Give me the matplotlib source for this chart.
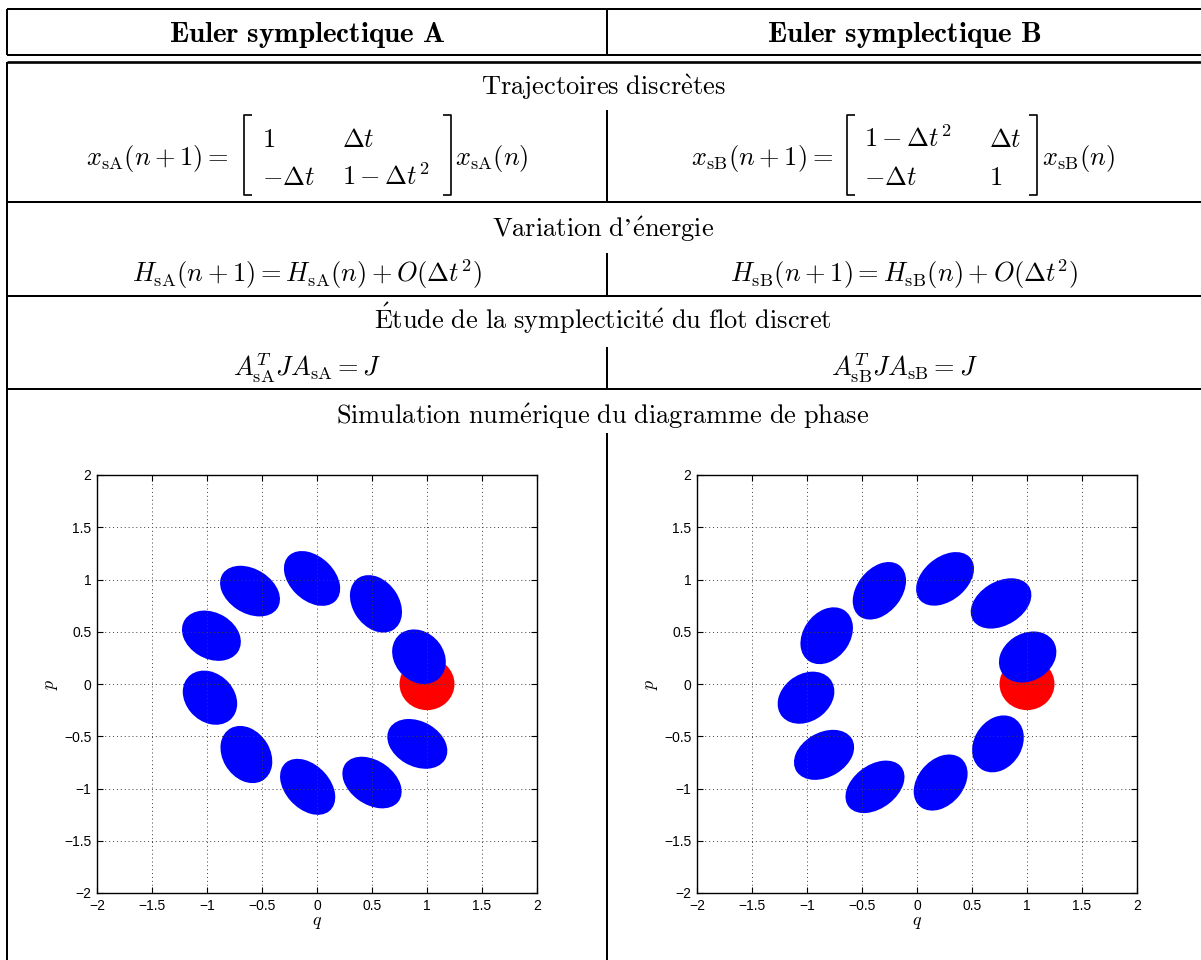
import numpy as np
import matplotlib
matplotlib.use('Agg')
import matplotlib.pyplot as plt
from matplotlib.patches import Ellipse, Circle
from matplotlib.lines import Line2D

plt.rcParams['mathtext.fontset'] = 'cm'
plt.rcParams['font.family'] = ['Liberation Sans', 'DejaVu Sans']

# --- phase portrait data (q, p centres, full axes, tilt in deg)
start_q, start_p, start_d = 1.0, 0.0, 0.5

qA = [0.927, 0.912, 0.50, -0.085, -0.642, -0.973, -0.96, -0.609, -0.045, 0.536]
pA = [0.261, -0.573, -0.943, -0.984, -0.675, -0.131, 0.462, 0.889, 1.01, 0.767]
wA = [0.554, 0.586, 0.603, 0.609, 0.578, 0.561, 0.572, 0.597, 0.606, 0.589]
hA = [0.452, 0.426, 0.414, 0.410, 0.433, 0.446, 0.437, 0.419, 0.412, 0.424]
angA = [-55, -32, -38, -50, -61, -51, -33, -35, -47, -59]

qB = [1.006, 0.736, 0.215, -0.382, -0.845, -1.009, -0.821, -0.342, 0.255, 0.764]
pB = [0.258, -0.573, -0.943, -0.984, -0.678, -0.131, 0.462, 0.892, 1.006, 0.771]
wB = [0.557, 0.572, 0.593, 0.611, 0.592, 0.565, 0.583, 0.608, 0.611, 0.604]
hB = [0.449, 0.437, 0.421, 0.409, 0.422, 0.442, 0.429, 0.411, 0.409, 0.414]
angB = [36, 62, 53, 40, 33, 41, 58, 55, 43, 34]

ticks = [-2, -1.5, -1, -0.5, 0, 0.5, 1, 1.5, 2]
tick_labels = ['\u22122', '\u22121.5', '\u22121', '\u22120.5', '0', '0.5', '1', '1.5', '2']

W, H = 1201, 960
def fx(px):
    return px / W
def fy(py):
    return 1 - py / H

fig = plt.figure(figsize=(W / 100, H / 100), dpi=100)

def seg(xs, ys, lw=1.44):
    fig.add_artist(Line2D([fx(v) for v in xs], [fy(v) for v in ys],
                          transform=fig.transFigure, color='k', lw=lw,
                          solid_capstyle='butt'))

# table rules
x0, xm, x1 = 7, 607, 1201
for y in [9, 55, 202, 296, 389]:
    seg([x0, x1], [y, y])
seg([x0, x1], [62.3, 62.3], lw=1.9)
seg([x0, x0], [9, 55])
seg([x0, x0], [62, 960])
for ya, yb in [(9, 55), (110, 202), (253, 296), (347, 389), (433, 960)]:
    seg([xm, xm], [ya, yb])

fs = 19
def put(x, y, s, ha='center', size=fs):
    fig.text(fx(x), fy(y), s, ha=ha, va='baseline', fontsize=size)

cA, cB, cT = 307, 904, 603
put(cA, 42, r'$\mathbf{Euler\ symplectique\ A}$', size=21)
put(cB, 42, r'$\mathbf{Euler\ symplectique\ B}$', size=21)

put(cT, 95, r'$\mathrm{Trajectoires\ discr\grave{e}tes}$')
put(cT, 237, r'$\mathrm{Variation\ d' + '\u2019' + r'\acute{e}nergie}$')
put(cT, 329, r'$\mathrm{\acute{E}tude\ de\ la\ symplecticit\acute{e}\ du\ flot\ discret}$')
put(cT, 424, r'$\mathrm{Simulation\ num\acute{e}rique\ du\ diagramme\ de\ phase}$')

# matrices
def bracket(x, side, y0=115, y1=195, s=8):
    seg([x + side * s, x, x, x + side * s], [y0, y0, y1, y1], lw=1.2)

r1, r2, rm = 147, 185, 165
put(229, rm, r'$x_{\mathrm{sA}}(n+1) =$', ha='right')
bracket(244, 1)
put(262, r1, r'$1$', ha='left')
put(342, r1, r'$\Delta t$', ha='left')
put(262, r2, r'$-\Delta t$', ha='left')
put(342, r2, r'$1-\Delta t^2$', ha='left')
bracket(451, -1)
put(455, rm, r'$x_{\mathrm{sA}}(n)$', ha='left')

put(833, rm, r'$x_{\mathrm{sB}}(n+1) =$', ha='right')
bracket(847, 1)
put(864, r1, r'$1-\Delta t^2$', ha='left')
put(989, r1, r'$\Delta t$', ha='left')
put(864, r2, r'$-\Delta t$', ha='left')
put(989, r2, r'$1$', ha='left')
bracket(1037, -1)
put(1042, rm, r'$x_{\mathrm{sB}}(n)$', ha='left')

put(cA, 282, r'$H_{\mathrm{sA}}(n+1) = H_{\mathrm{sA}}(n) + O(\Delta t^2)$')
put(cB, 282, r'$H_{\mathrm{sB}}(n+1) = H_{\mathrm{sB}}(n) + O(\Delta t^2)$')
put(cA, 376, r'$A_{\mathrm{sA}}^T J A_{\mathrm{sA}} = J$')
put(cB, 376, r'$A_{\mathrm{sB}}^T J A_{\mathrm{sB}} = J$')

# phase portraits
def phase(left, qs, ps, ws, hs, angs):
    ax = fig.add_axes([fx(left), fy(893), 440 / W, 418 / H])
    ax.add_patch(Circle((start_q, start_p), start_d / 2, color='red', lw=0))
    for q, p, w, h, a in zip(qs, ps, ws, hs, angs):
        ax.add_patch(Ellipse((q, p), w, h, angle=a, color='blue', lw=0))
    ax.set_xlim(-2, 2)
    ax.set_ylim(-2, 2)
    ax.set_xticks(ticks)
    ax.set_yticks(ticks)
    ax.set_xticklabels(tick_labels)
    ax.set_yticklabels(tick_labels)
    ax.tick_params(direction='in', top=True, right=True, length=4, width=0.8,
                   labelsize=10, pad=4)
    ax.grid(True, linestyle=(0, (1, 3)), color='0.25', linewidth=0.7)
    for sp in ax.spines.values():
        sp.set_linewidth(1.0)
    ax.set_xlabel(r'$q$', fontsize=13, labelpad=1)
    ax.set_ylabel(r'$p$', fontsize=13, labelpad=3)
    return ax

phase(97, qA, pA, wA, hA, angA)
phase(697, qB, pB, wB, hB, angB)

fig.savefig('out.png', dpi=100)
